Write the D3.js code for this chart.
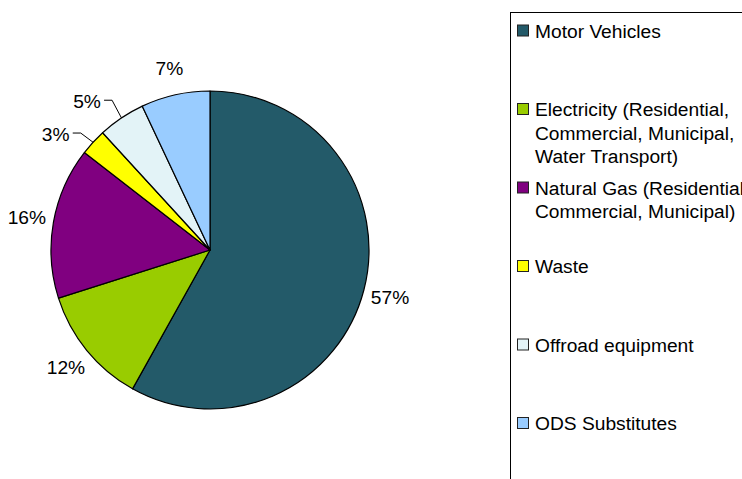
<!DOCTYPE html>
<html>
<head>
<meta charset="utf-8">
<script src="https://cdn.jsdelivr.net/npm/d3@7"></script>
<style>
  body { margin: 0; background: #fff; }
  text { font-family: "Liberation Sans", Arial, sans-serif; font-size: 19.2px; fill: #000; }
</style>
</head>
<body>
<div id="chart"></div>
<script>
var categories = ['Motor Vehicles', 'Electricity (Residential, Commercial, Municipal, Water Transport)',
  'Natural Gas (Residential, Commercial, Municipal)', 'Waste', 'Offroad equipment', 'ODS Substitutes'];
var values = [58.1, 12.0, 15.4, 2.7, 4.8, 7.0];
var percentLabels = ['57%', '12%', '16%', '3%', '5%', '7%'];
var legendLines = [
  ['Motor Vehicles'],
  ['Electricity (Residential,', 'Commercial, Municipal,', 'Water Transport)'],
  ['Natural Gas (Residential,', 'Commercial, Municipal)'],
  ['Waste'],
  ['Offroad equipment'],
  ['ODS Substitutes']
];
var colors = ['#235a69', '#99cc00', '#800080', '#ffff00', '#e3f3f7', '#99ccff'];

var width = 742, height = 479;
var radius = 159;

var svg = d3.select('#chart').append('svg')
  .attr('width', width)
  .attr('height', height);

svg.append('rect').attr('width', width).attr('height', height).attr('fill', '#fff');

var color = d3.scaleOrdinal().domain(categories).range(colors);

var pie = d3.pie().sort(null).value(function(d, i) { return values[i]; });
var arc = d3.arc().innerRadius(0).outerRadius(radius);

var group = svg.append('g').attr('transform', 'translate(210, 250)');

var slices = group.selectAll('.arc')
  .data(pie(categories))
  .enter()
  .append('g')
  .attr('class', 'arc');

slices.append('path')
  .attr('d', arc)
  .attr('fill', function(d) { return color(d.data); })
  .attr('stroke', '#000')
  .attr('stroke-width', 1.2)
  .attr('stroke-linejoin', 'round');

// labels: small slices are pushed out and get a leader line
function labelPos(d) {
  var a = (d.startAngle + d.endAngle) / 2;
  var small = d.value < 6;
  var r = small ? 193 : 186;
  if (small) a -= 0.1;
  return [Math.sin(a) * r, -Math.cos(a) * r];
}

slices.append('text')
  .attr('x', function(d) { return labelPos(d)[0]; })
  .attr('y', function(d) { return labelPos(d)[1]; })
  .attr('dy', '0.35em')
  .attr('text-anchor', 'middle')
  .text(function(d) { return percentLabels[d.index]; });

slices.filter(function(d) { return d.value < 6; })
  .append('polyline')
  .attr('fill', 'none')
  .attr('stroke', '#000')
  .attr('stroke-width', 1)
  .attr('points', function(d) {
    var a = (d.startAngle + d.endAngle) / 2;
    var p = labelPos(d);
    var edge = [Math.sin(a) * radius, -Math.cos(a) * radius];
    var y = p[1] - 1;
    return [[p[0] + 17, y], [p[0] + 25, y], edge].join(' ');
  });

// legend
var legendY = d3.scalePoint().domain(categories).range([37.5, 430]);

svg.append('rect')
  .attr('x', 510.5).attr('y', 12.5)
  .attr('width', 260).attr('height', 480)
  .attr('fill', 'none')
  .attr('stroke', '#000')
  .attr('stroke-width', 1);

var items = svg.selectAll('.legend')
  .data(categories)
  .enter()
  .append('g')
  .attr('class', 'legend')
  .attr('transform', function(d) { return 'translate(0,' + legendY(d) + ')'; });

items.append('rect')
  .attr('x', 517.5).attr('y', -12.5)
  .attr('width', 11).attr('height', 11)
  .attr('fill', function(d) { return color(d); })
  .attr('stroke', '#222')
  .attr('stroke-width', 1);

items.append('text')
  .attr('x', 535)
  .selectAll('tspan')
  .data(function(d, i) { return legendLines[i]; })
  .enter()
  .append('tspan')
  .attr('x', 535)
  .attr('y', function(d, i) { return i * 23.5; })
  .text(function(d) { return d; });
</script>
</body>
</html>
